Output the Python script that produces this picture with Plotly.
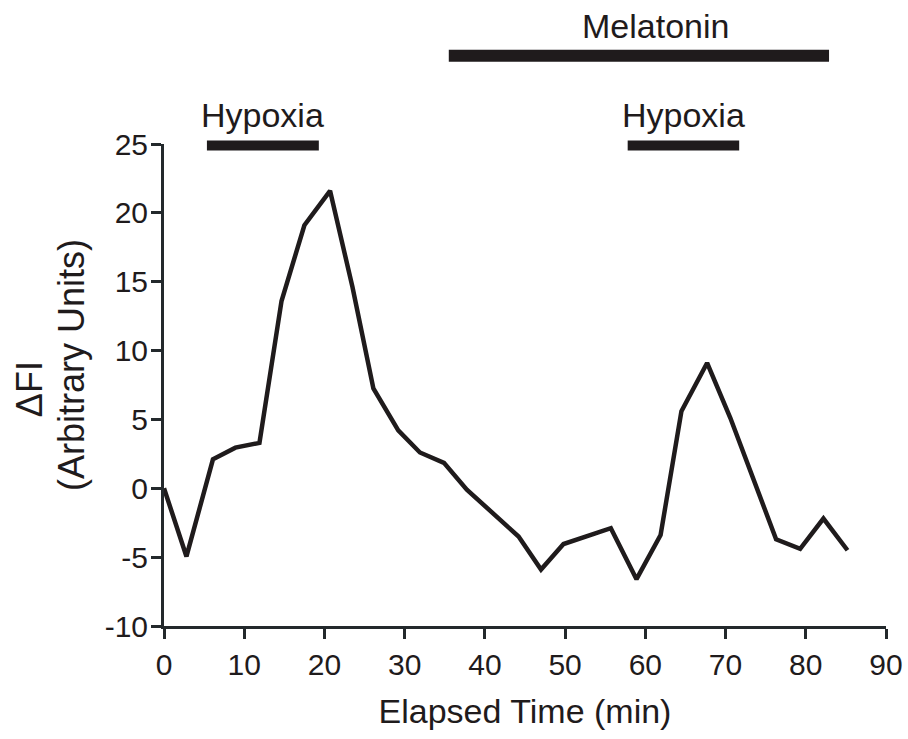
import plotly.graph_objects as go

# Data
time_min = [0, 2.8, 6.1, 8.9, 11.9, 14.65, 17.5, 20.7, 23.5, 26.1, 29.2, 31.9, 34.9, 37.75,
            44.2, 47.0, 49.8, 52.8, 55.7, 58.9, 61.9, 64.5, 67.7, 70.6, 76.3, 79.3, 82.2, 85.2]
delta_fi = [0.0, -4.95, 2.1, 2.95, 3.3, 13.6, 19.1, 21.6, 14.6, 7.25, 4.2, 2.6, 1.85, -0.1,
            -3.5, -5.9, -4.05, -3.5, -2.9, -6.6, -3.4, 5.6, 9.1, 5.1, -3.7, -4.4, -2.2, -4.5]

# Treatment periods (minutes) and their bar levels (same units as y)
bar_labels = ["Hypoxia", "Hypoxia", "Melatonin"]
bar_start = [5.35, 57.8, 35.5]
bar_end = [19.3, 71.7, 82.9]
bar_level = [24.9, 24.9, 31.4]

# styling of the period bars / labels (pixels)
BAR_STYLE = {"Hypoxia": dict(width=10, xshift=0, yshift=9),
             "Melatonin": dict(width=12, xshift=17, yshift=9)}

x_ticks = [0, 10, 20, 30, 40, 50, 60, 70, 80, 90]
y_ticks = [-10, -5, 0, 5, 10, 15, 20, 25]
y_tick_text = ["-10", "-5", "0", "5", "10", "15", "20", "25"]

INK = "#1f1b1c"
AXIS = "#23292c"
FONT = "Liberation Sans, Arial, Helvetica, sans-serif"

W, H = 908, 739
m_l, m_r, m_t, m_b = 164, 22, 10, 113
plot_h = H - m_t - m_b
y_lo, y_hi = -10, 25
px_per_unit = (626 - 144) / (y_hi - y_lo)
y2_hi = y_lo + plot_h / px_per_unit
main_frac = (y_hi - y_lo) / (y2_hi - y_lo)

fig = go.Figure()
fig.add_trace(go.Scatter(x=time_min, y=delta_fi, mode="lines",
                         line=dict(color=INK, width=4.5), showlegend=False,
                         hoverinfo="skip", xaxis="x", yaxis="y"))

for lab, s, e, lv in zip(bar_labels, bar_start, bar_end, bar_level):
    st = BAR_STYLE[lab]
    fig.add_trace(go.Scatter(x=[s, e], y=[lv, lv], mode="lines",
                             line=dict(color=INK, width=st["width"]), showlegend=False,
                             hoverinfo="skip", xaxis="x", yaxis="y2"))
    fig.add_annotation(x=(s + e) / 2, y=lv, xref="x", yref="y2", text=lab,
                       showarrow=False, yanchor="bottom",
                       xshift=st["xshift"], yshift=st["yshift"],
                       font=dict(family=FONT, size=34, color=INK))

# y axis title (two separately centred lines as in the reference)
fig.add_annotation(x=0, y=7.2, xref="x", yref="y", text="ΔFI", textangle=-90,
                   showarrow=False, xanchor="center", yanchor="middle", xshift=-135,
                   font=dict(family=FONT, size=36, color=INK))
fig.add_annotation(x=0, y=8.95, xref="x", yref="y", text="(Arbitrary Units)", textangle=-90,
                   showarrow=False, xanchor="center", yanchor="middle", xshift=-93,
                   font=dict(family=FONT, size=36, color=INK))

fig.update_layout(
    width=W, height=H,
    margin=dict(l=m_l, r=m_r, t=m_t, b=m_b, autoexpand=False),
    paper_bgcolor="white", plot_bgcolor="rgba(0,0,0,0)",
    font=dict(family=FONT, color=INK),
    xaxis=dict(range=[0, 90], tickvals=x_ticks, ticks="outside", ticklen=10, tickwidth=3,
               tickcolor=AXIS, showline=True, linewidth=3, linecolor=AXIS,
               showgrid=False, zeroline=False, anchor="y", automargin=False,
               tickfont=dict(family=FONT, size=30, color=INK),
               title=dict(text="Elapsed Time (min)", font=dict(family=FONT, size=34, color=INK),
                          standoff=20)),
    yaxis=dict(range=[y_lo, y_hi], domain=[0, main_frac], tickvals=y_ticks,
               ticktext=y_tick_text, ticks="outside", automargin=False,
               ticklabelstandoff=-3,
               ticklen=10, tickwidth=3, tickcolor=AXIS, showline=True, linewidth=3,
               linecolor=AXIS, showgrid=False, zeroline=False, anchor="x",
               tickfont=dict(family=FONT, size=30, color=INK)),
    yaxis2=dict(range=[y_lo, y2_hi], domain=[0, 1], visible=False, anchor="x",
                automargin=False, showgrid=False, zeroline=False),
)

fig.write_html("out.html")
